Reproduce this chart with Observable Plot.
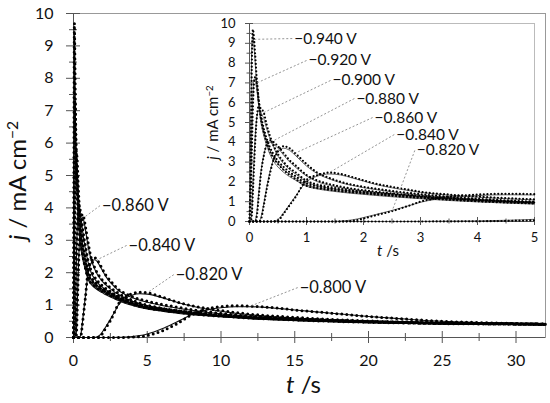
<!DOCTYPE html>
<html><head><meta charset="utf-8">
<script src="https://cdn.jsdelivr.net/npm/d3@7"></script>
<script src="https://cdn.jsdelivr.net/npm/@observablehq/plot@0.6"></script>
<style>
body{margin:0;background:#fff}
#wrap{position:relative;width:550px;height:403px;font-family:Lato,sans-serif}
#inset{position:absolute;left:200px;top:0}
</style></head><body><div id="wrap"><div id="main"></div><div id="inset"></div></div>
<script>
// time grid (s)
const tGrid = [0,0.02,0.04,0.06,0.08,0.1,0.13,0.16,0.2,0.25,0.3,0.35,0.4,0.5,0.6,0.7,0.8,1,1.2,1.4,1.6,1.8,2,2.2,2.5,2.8,3,3.5,4,4.5,5,6,7,8,9,10,11,12,13,14,15,17.5,20,22.5,25,27.5,30,32];
const potentials = ["−0.940","−0.920","−0.900","−0.880","−0.860","−0.840","−0.820","−0.800"];

// experimental current densities (mA cm-2)
const j940 = [0,3.0,7.8,9.7,9.2,8.4,7.1,6.1,5.2,4.5,4.0,3.6,3.3,2.9,2.6,2.35,2.15,1.8,1.68,1.6,1.53,1.47,1.42,1.37,1.3,1.23,1.19,1.1,1.02,0.96,0.91,0.84,0.78,0.73,0.69,0.66,0.63,0.6,0.58,0.56,0.54,0.5,0.47,0.45,0.43,0.42,0.41,0.4];
const j920 = [0,1.2,3.5,5.8,7.0,7.3,7.0,6.2,5.4,4.7,4.2,3.8,3.5,3.05,2.75,2.5,2.3,1.92,1.77,1.67,1.59,1.52,1.46,1.41,1.34,1.27,1.23,1.13,1.05,0.99,0.93,0.86,0.8,0.75,0.71,0.67,0.64,0.61,0.59,0.57,0.55,0.51,0.48,0.46,0.44,0.43,0.42,0.41];
const j900 = [0,0,0.3,1.5,2.8,4.0,5.3,5.8,5.7,5.5,4.9,4.4,4.0,3.4,3.0,2.7,2.5,2.05,1.86,1.74,1.65,1.57,1.51,1.45,1.38,1.31,1.26,1.16,1.08,1.01,0.95,0.88,0.82,0.77,0.72,0.68,0.65,0.62,0.6,0.58,0.56,0.52,0.49,0.46,0.44,0.43,0.42,0.41];
const j880 = [0,0,0,0,0,0,0.3,1.2,2.4,3.3,3.9,4.1,4.05,3.8,3.45,3.1,2.85,2.35,2.06,1.89,1.76,1.66,1.58,1.51,1.42,1.34,1.29,1.18,1.09,1.02,0.96,0.89,0.83,0.78,0.73,0.69,0.66,0.63,0.61,0.59,0.57,0.53,0.49,0.47,0.45,0.43,0.42,0.41];
const j860 = [0,0,0,0,0,0,0,0,0.1,0.8,1.6,2.3,2.9,3.55,3.8,3.7,3.45,2.9,2.45,2.2,2.0,1.86,1.75,1.66,1.54,1.44,1.38,1.25,1.15,1.07,1.0,0.9,0.83,0.77,0.72,0.68,0.65,0.62,0.6,0.58,0.56,0.52,0.49,0.46,0.44,0.43,0.42,0.41];
const j840 = [0,0,0,0,0,0,0,0,0,0,0,0,0,0.05,0.4,0.8,1.2,2.1,2.35,2.47,2.4,2.25,2.08,1.92,1.75,1.6,1.5,1.36,1.26,1.18,1.12,1.02,0.94,0.86,0.8,0.75,0.7,0.66,0.63,0.6,0.58,0.53,0.49,0.46,0.44,0.43,0.42,0.41];
const j820 = [0,0,0,0,0,0,0,0,0,0,0,0,0,0,0,0,0,0,0,0,0,0.03,0.15,0.3,0.52,0.8,1.0,1.25,1.36,1.4,1.38,1.25,1.1,0.98,0.9,0.83,0.77,0.72,0.68,0.65,0.62,0.56,0.51,0.48,0.45,0.44,0.43,0.42];
const j800 = [0,0,0,0,0,0,0,0,0,0,0,0,0,0,0,0,0,0,0,0,0,0,0,0,0,0,0,0.005,0.01,0.03,0.06,0.2,0.42,0.7,0.88,0.95,0.98,0.97,0.94,0.9,0.85,0.75,0.65,0.57,0.5,0.46,0.43,0.41];

// fitted (theoretical) transients
const f940 = [0,4.6,8.8,9.4,8.8,8.0,6.8,5.9,5.0,4.35,3.85,3.45,3.15,2.75,2.48,2.27,2.1,1.78,1.64,1.55,1.48,1.42,1.37,1.32,1.25,1.19,1.15,1.06,0.99,0.93,0.88,0.81,0.75,0.71,0.67,0.64,0.61,0.58,0.56,0.54,0.53,0.49,0.46,0.44,0.42,0.41,0.4,0.39];
const f920 = [0,2.0,4.6,6.5,7.2,7.1,6.6,5.9,5.2,4.55,4.05,3.65,3.35,2.92,2.62,2.4,2.2,1.86,1.7,1.6,1.52,1.46,1.41,1.36,1.29,1.22,1.18,1.09,1.01,0.95,0.9,0.83,0.77,0.72,0.68,0.65,0.62,0.59,0.57,0.55,0.53,0.5,0.47,0.45,0.43,0.42,0.41,0.4];
const f900 = [0,0,0.6,1.9,3.2,4.3,5.3,5.6,5.5,5.2,4.7,4.25,3.9,3.3,2.92,2.63,2.42,2.0,1.8,1.68,1.6,1.53,1.47,1.41,1.34,1.27,1.22,1.12,1.04,0.98,0.92,0.85,0.79,0.74,0.7,0.66,0.63,0.6,0.58,0.56,0.54,0.5,0.47,0.45,0.43,0.42,0.41,0.4];
const f880 = [0,0,0,0,0,0.05,0.5,1.4,2.5,3.35,3.85,4.0,3.95,3.7,3.35,3.02,2.76,2.3,2.0,1.83,1.71,1.61,1.54,1.47,1.38,1.3,1.25,1.14,1.06,0.99,0.93,0.86,0.8,0.75,0.71,0.67,0.64,0.61,0.59,0.57,0.55,0.51,0.48,0.46,0.44,0.42,0.41,0.4];
const f860 = [0,0,0,0,0,0,0,0,0.2,0.9,1.7,2.4,2.95,3.5,3.7,3.6,3.35,2.8,2.4,2.15,1.96,1.82,1.71,1.62,1.5,1.4,1.34,1.22,1.12,1.04,0.98,0.88,0.81,0.75,0.71,0.67,0.64,0.61,0.59,0.57,0.55,0.51,0.48,0.46,0.44,0.42,0.41,0.4];
const f840 = [0,0,0,0,0,0,0,0,0,0,0,0,0,0.1,0.45,0.85,1.25,2.0,2.3,2.4,2.35,2.2,2.04,1.88,1.7,1.56,1.47,1.33,1.23,1.15,1.09,0.99,0.91,0.84,0.78,0.73,0.69,0.65,0.62,0.59,0.57,0.52,0.48,0.46,0.44,0.42,0.41,0.4];
const f820 = [0,0,0,0,0,0,0,0,0,0,0,0,0,0,0,0,0,0,0,0,0.02,0.08,0.2,0.34,0.56,0.8,0.97,1.2,1.31,1.35,1.34,1.23,1.09,0.97,0.88,0.81,0.75,0.7,0.66,0.63,0.6,0.55,0.5,0.47,0.45,0.43,0.42,0.41];
const f800 = [0,0,0,0,0,0,0,0,0,0,0,0,0,0,0,0,0,0,0,0,0,0,0,0,0,0.002,0.005,0.015,0.03,0.06,0.11,0.27,0.48,0.7,0.85,0.92,0.95,0.95,0.93,0.89,0.85,0.75,0.65,0.57,0.5,0.46,0.43,0.41];

// annotations: main chart
const mainLabSeries = [4,5,6,7];
const mainLabT = [1.8, 3.6, 6.8, 15.2];
const mainLabJ = [4.07, 2.84, 1.94, 1.54];
const mainTargetT = [0.7, 1.6, 5, 12];
// annotations: inset
const insLabSeries = [0,1,2,3,4,5,6];
const insLabT = [0.75, 1.0, 1.42, 1.84, 2.16, 2.54, 2.9];
const insLabJ = [9.24, 8.13, 7.12, 6.21, 5.25, 4.39, 3.59];
const insTargetT = [0.08, 0.13, 0.25, 0.4, 0.8, 1.4, 2.5];

// tick values
const mainXTicks = [0,5,10,15,20,25,30];
const mainXMinor = [2.5,7.5,12.5,17.5,22.5,27.5];
const mainYTicks = [0,1,2,3,4,5,6,7,8,9,10];
const mainYMinor = [0.5,1.5,2.5,3.5,4.5,5.5,6.5,7.5,8.5,9.5];
const insXTicks = [0,1,2,3,4,5];
const insXMinor = [0.5,1.5,2.5,3.5,4.5];
const insYTicks = mainYTicks;
const insYMinor = mainYMinor;

const expSeries = [j940,j920,j900,j880,j860,j840,j820,j800];
const fitSeries = [f940,f920,f900,f880,f860,f840,f820,f800];
const rows = arrs => arrs.flatMap((a,si) => a.map((j,k) => ({t: tGrid[k], j, s: potentials[si]})));
const expRows = rows(expSeries), fitRows = rows(fitSeries);
const jAt = (si, t) => expSeries[si][tGrid.indexOf(t)];

const mainLabels = mainLabSeries.map((si,i) => ({text: potentials[si] + " V", x: mainLabT[i], y: mainLabJ[i], x2: mainTargetT[i], y2: jAt(si, mainTargetT[i])}));
const insLabels = insLabSeries.map((si,i) => ({text: potentials[si] + " V", x: insLabT[i], y: insLabJ[i], x2: insTargetT[i], y2: jAt(si, insTargetT[i])}));

const blank = () => "";
const intFmt = d3.format("d");
const axisCol = "#555";

const main = Plot.plot({
  width: 550, height: 403,
  marginLeft: 73, marginRight: 5, marginTop: 13, marginBottom: 66,
  style: {background: "transparent", fontFamily: "Lato, sans-serif", fontSize: "16px", color: "#111", overflow: "visible"},
  x: {domain: [0, 32], axis: null},
  y: {domain: [0, 10], axis: null},
  marks: [
    Plot.frame({stroke: "#999"}),
    Plot.axisY({ticks: mainYTicks, tickSize: 0, tickPadding: 20, tickFormat: intFmt, label: null}),
    Plot.axisX({ticks: mainXTicks, tickSize: 0, tickPadding: 17, tickFormat: intFmt, label: null}),
    Plot.axisY({ticks: mainYTicks, tickSize: 14, dx: 7, tickFormat: blank, label: null, stroke: axisCol}),
    Plot.axisY({ticks: mainYMinor, tickSize: 8, dx: 4, tickFormat: blank, label: null, stroke: axisCol}),
    Plot.axisX({ticks: mainXTicks, tickSize: 12, dy: -6, tickFormat: blank, label: null, stroke: axisCol}),
    Plot.axisX({ticks: mainXMinor, tickSize: 8, dy: -4, tickFormat: blank, label: null, stroke: axisCol}),
    Plot.ruleX([0], {stroke: axisCol}),
    Plot.ruleY([0], {stroke: axisCol}),
    Plot.line(fitRows, {x: "t", y: "j", z: "s", stroke: "#111", strokeWidth: 1.1, curve: "monotone-x"}),
    Plot.line(expRows, {x: "t", y: "j", z: "s", stroke: "#000", strokeWidth: 3, strokeDasharray: "0,5", strokeLinecap: "round", curve: "monotone-x"}),
    Plot.link(mainLabels, {x1: "x", y1: "y", x2: "x2", y2: "y2", stroke: "#888", strokeWidth: 0.9, strokeDasharray: "2,2"}),
    Plot.text(mainLabels, {x: "x", y: "y", text: "text", textAnchor: "start", dx: 2, fontSize: 16.5, fill: "#111"}),
    Plot.text(["t /s"], {frameAnchor: "bottom", textAnchor: "middle", lineAnchor: "middle", dx: -6, dy: 48, fontSize: 24, fill: "#111", className: "xlab"}),
    Plot.text(["j / mA cm−2"], {frameAnchor: "left", textAnchor: "middle", lineAnchor: "middle", dx: -55, dy: 5, rotate: -90, fontSize: 24, fill: "#111", className: "ylab"})
  ]
});
document.getElementById("main").appendChild(main);

const insExp = expRows.filter(d => d.t <= 5), insFit = fitRows.filter(d => d.t <= 5);
const inset = Plot.plot({
  width: 350, height: 260,
  marginLeft: 49, marginRight: 16, marginTop: 23, marginBottom: 39,
  style: {background: "transparent", fontFamily: "Lato, sans-serif", fontSize: "13px", color: "#111", overflow: "visible"},
  x: {domain: [0, 5], axis: null},
  y: {domain: [0, 10], axis: null},
  marks: [
    Plot.frame({stroke: "#bbb"}),
    Plot.axisY({ticks: insYTicks, tickSize: 0, tickPadding: 14, tickFormat: intFmt, label: null}),
    Plot.axisX({ticks: insXTicks, tickSize: 0, tickPadding: 11, tickFormat: intFmt, label: null}),
    Plot.axisY({ticks: insYTicks, tickSize: 8, dx: 4, tickFormat: blank, label: null, stroke: axisCol}),
    Plot.axisY({ticks: insYMinor, tickSize: 5, dx: 2.5, tickFormat: blank, label: null, stroke: axisCol}),
    Plot.axisX({ticks: insXTicks, tickSize: 8, dy: -4, tickFormat: blank, label: null, stroke: axisCol}),
    Plot.axisX({ticks: insXMinor, tickSize: 5, dy: -2.5, tickFormat: blank, label: null, stroke: axisCol}),
    Plot.ruleX([0], {stroke: axisCol}),
    Plot.ruleY([0], {stroke: axisCol}),
    Plot.line(insFit, {x: "t", y: "j", z: "s", stroke: "#666", strokeWidth: 1, curve: "monotone-x"}),
    Plot.line(insExp, {x: "t", y: "j", z: "s", stroke: "#000", strokeWidth: 2.2, strokeDasharray: "0,3.6", strokeLinecap: "round", curve: "monotone-x"}),
    Plot.link(insLabels, {x1: "x", y1: "y", x2: "x2", y2: "y2", stroke: "#888", strokeWidth: 0.9, strokeDasharray: "2,2"}),
    Plot.text(insLabels, {x: "x", y: "y", text: "text", textAnchor: "start", dx: 2, fontSize: 15.5, fill: "#111"}),
    Plot.text(["t /s"], {frameAnchor: "bottom", textAnchor: "middle", lineAnchor: "middle", dx: -4, dy: 30, fontSize: 15, fill: "#111", className: "xlab"}),
    Plot.text(["j / mA cm−2"], {frameAnchor: "left", textAnchor: "middle", lineAnchor: "middle", dx: -36, rotate: -90, fontSize: 15, fill: "#111", className: "ylab"})
  ]
});
document.getElementById("inset").appendChild(inset);

// rich text for axis titles: italic symbols and superscript
for (const svg of [main, inset]) {
  d3.select(svg).selectAll(".xlab text").each(function() {
    const t = d3.select(this); t.text(null);
    t.append("tspan").attr("font-style", "italic").text("t");
    t.append("tspan").text(" /s");
  });
  d3.select(svg).selectAll(".ylab text").each(function() {
    const t = d3.select(this); t.text(null);
    t.append("tspan").attr("font-style", "italic").text("j");
    t.append("tspan").text(" / mA cm");
    t.append("tspan").attr("font-size", "65%").attr("dy", "-0.55em").text("−2");
  });
}
</script></body></html>
